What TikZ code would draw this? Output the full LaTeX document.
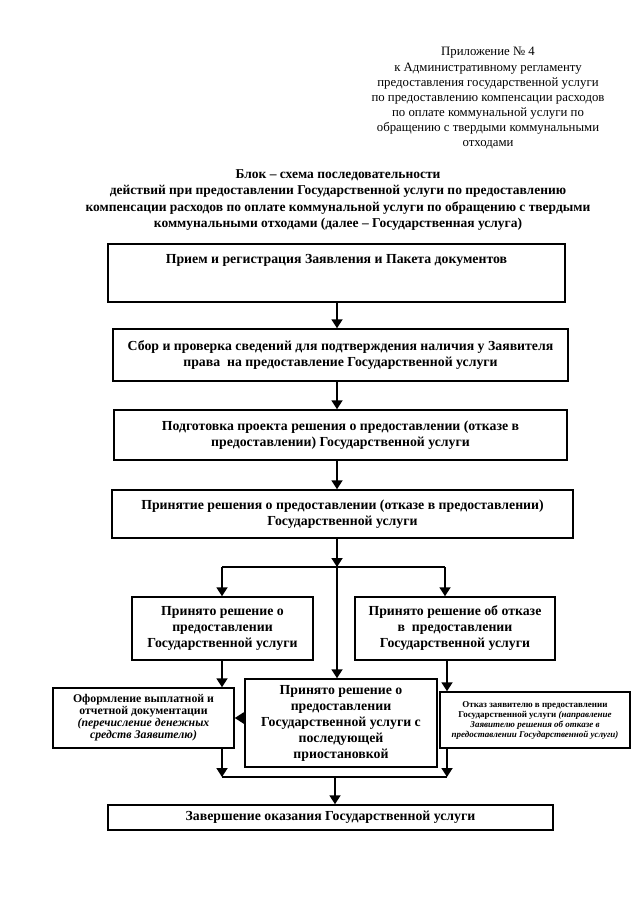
\documentclass[tikz,border=0pt]{standalone}
\usepackage{fontspec}
\setmainfont{Liberation Serif}
\usetikzlibrary{arrows.meta}

\begin{document}
\begin{tikzpicture}[x=1pt,y=-1pt,>={Triangle[length=9pt,width=11pt]},
  stepbox/.style={rectangle,draw=black,line width=1.5pt,inner sep=2pt,align=center,font=\bfseries\fontsize{13.8}{16}\selectfont},
  smallbox/.style={stepbox,font=\bfseries\fontsize{11.8}{12}\selectfont},
  tinybox/.style={stepbox,font=\bfseries\fontsize{9}{10}\selectfont},
  link/.style={draw=black,line width=1.8pt}]
\useasboundingbox (0,0) rectangle (640,905);
\node[align=center,font=\fontsize{12.8}{15}\selectfont] (annex) at (488,98) {Приложение № 4\\[1.5pt]к Административному регламенту\\предоставления государственной услуги\\по предоставлению компенсации расходов\\по оплате коммунальной услуги по\\обращению с твердыми коммунальными\\отходами};
\node[align=center,font=\bfseries\fontsize{13.5}{16.5}\selectfont] (title) at (338,200) {Блок – схема последовательности\\действий при предоставлении Государственной услуги по предоставлению\\компенсации расходов по оплате коммунальной услуги по обращению с твердыми\\коммунальными отходами (далее – Государственная услуга)};
\node[stepbox,minimum width=457pt,minimum height=58pt,text depth=28pt] (reg) at (336.5,273) {Прием и регистрация Заявления и Пакета документов};
\node[stepbox,minimum width=455pt,minimum height=52pt] (sbor) at (340.5,355) {Сбор и проверка сведений для подтверждения наличия у Заявителя\\права~ на предоставление Государственной услуги};
\node[stepbox,minimum width=453pt,minimum height=50pt] (podg) at (340.5,435) {Подготовка проекта решения о предоставлении (отказе в\\предоставлении) Государственной услуги};
\node[stepbox,minimum width=461pt,minimum height=48pt] (prin) at (342.5,514) {Принятие решения о предоставлении (отказе в предоставлении)\\Государственной услуги};
\coordinate (split) at (337,567);
\coordinate (splitl) at (222,567);
\coordinate (splitr) at (445,567);
\node[stepbox,minimum width=181pt,minimum height=63pt] (da) at (222.5,628.5) {Принято решение о\\предоставлении\\Государственной услуги};
\node[stepbox,minimum width=200pt,minimum height=63pt] (net) at (455,628.5) {Принято решение об отказе\\в~ предоставлении\\Государственной услуги};
\node[stepbox,minimum width=192pt,minimum height=88pt] (pauza) at (341,723) {Принято решение о\\предоставлении\\Государственной услуги с\\последующей\\приостановкой};
\node[smallbox,minimum width=181pt,minimum height=60pt] (oform) at (143.5,718) {Оформление выплатной и\\отчетной документации\\\textit{(перечисление денежных}\\\textit{средств Заявителю)}};
\node[tinybox,minimum width=190pt,minimum height=56pt] (otkaz) at (535,720) {Отказ заявителю в предоставлении\\Государственной услуги \textit{(направление}\\\textit{Заявителю решения об отказе в}\\\textit{предоставлении Государственной услуги)}};
\coordinate (join) at (335,777);
\coordinate (joinl) at (222,777);
\coordinate (joinr) at (447,777);
\node[stepbox,minimum width=445pt,minimum height=25pt] (final) at (330.5,817.5) {Завершение оказания Государственной услуги};
% main chain
\draw[link,->] (reg.south -| split) -- (split |- sbor.north);
\draw[link,->] (sbor.south -| split) -- (split |- podg.north);
\draw[link,->] (podg.south -| split) -- (split |- prin.north);
\draw[link,->] (prin.south -| split) -- (split);
% branches
\draw[link] (splitl) -- (splitr);
\draw[link,->] (splitl) -- (splitl |- da.north);
\draw[link,->] (splitr) -- (splitr |- net.north);
\draw[link,->] (split) -- (split |- pauza.north);
\draw[link,->] (splitl |- da.south) -- (splitl |- oform.north);
\draw[link,->] (joinr |- net.south) -- (joinr |- otkaz.north);
\draw[link,->] (pauza.west |- oform) -- (oform.east);
% join
\draw[link,->] (joinl |- oform.south) -- (joinl);
\draw[link,->] (joinr |- otkaz.south) -- (joinr);
\draw[link] (joinl) -- (joinr);
\draw[link,->] (join) -- (join |- final.north);
\end{tikzpicture}
\end{document}
